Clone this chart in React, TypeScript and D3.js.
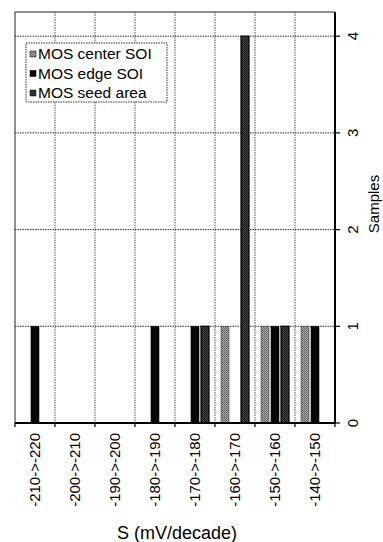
import React from "react";
import * as d3 from "d3";

const binLabels = ["-210->-220", "-200->-210", "-190->-200", "-180->-190", "-170->-180", "-160->-170", "-150->-160", "-140->-150"];
const binEdges = [-220, -210, -200, -190, -180, -170, -160, -150, -140];
const yTicks = [0, 1, 2, 3, 4];

// bar centers (mV/decade) and sample counts
const centerSOI_S = [-167.5, -157.5, -147.5];
const centerSOI_N = [1, 1, 1];
const edgeSOI_S = [-215, -185, -175, -155, -145];
const edgeSOI_N = [1, 1, 1, 1, 1];
const seedArea_S = [-172.5, -162.5, -152.5];
const seedArea_N = [1, 4, 1];

const seriesNames = ["MOS center SOI", "MOS edge SOI", "MOS seed area"];

const W = 383, H = 542;
const L = 15, R = 335, T = 12, B = 423;
const FONT = "'Liberation Sans', Arial, Helvetica, sans-serif";

export default function App() {
  const x = d3.scaleLinear().domain([-220, -140]).range([L, R]);
  const y = d3.scaleLinear().domain([0, 4.25]).range([B, T]);
  const barW = x(-218) - x(-220);

  const series = [
    { name: seriesNames[0], s: centerSOI_S, n: centerSOI_N, fill: "url(#pCenter)", stroke: "#444", sw: 0.6, sq: "url(#pCenter)" },
    { name: seriesNames[1], s: edgeSOI_S, n: edgeSOI_N, fill: "#050505", stroke: "#000", sw: 0.6, sq: "#050505" },
    { name: seriesNames[2], s: seedArea_S, n: seedArea_N, fill: "url(#pSeed)", stroke: "#000", sw: 1.2, sq: "url(#pSeed)" },
  ];

  return (
    <svg width={W} height={H} style={{ position: "absolute", left: 0, top: 0, background: "#fff" }} fontFamily={FONT}>
      <defs>
        <pattern id="pCenter" width="2" height="2" patternUnits="userSpaceOnUse">
          <rect width="2" height="2" fill="#a8a8a8" />
          <rect width="1" height="1" fill="#5e5e5e" />
          <rect x="1" y="1" width="1" height="1" fill="#6e6e6e" />
        </pattern>
        <pattern id="pSeed" width="2" height="2" patternUnits="userSpaceOnUse">
          <rect width="2" height="2" fill="#444" />
          <rect width="1" height="1" fill="#111" />
          <rect x="1" y="1" width="1" height="1" fill="#222" />
        </pattern>
      </defs>
      <rect x={0} y={0} width={W} height={H} fill="#fff" />

      {/* gridlines */}
      {binEdges.slice(1, -1).map((e) => (
        <line key={"v" + e} x1={x(e)} x2={x(e)} y1={T} y2={B} stroke="#555" strokeWidth={1} strokeDasharray="1.5,1" />
      ))}
      {yTicks.slice(1).map((t) => (
        <line key={"h" + t} x1={L} x2={R} y1={y(t)} y2={y(t)} stroke="#333" strokeWidth={1} strokeDasharray="1.5,1" />
      ))}

      {/* plot border top/left */}
      <line x1={L} x2={R} y1={T} y2={T} stroke="#222" strokeWidth={1} />
      <line x1={L} x2={L} y1={T} y2={B} stroke="#222" strokeWidth={1} />

      {/* bars */}
      {series.map((sr, si) =>
        sr.s.map((s, i) => (
          <rect key={si + "-" + i} x={x(s) - barW / 2} y={y(sr.n[i])} width={barW} height={y(0) - y(sr.n[i])}
            fill={sr.fill} stroke={sr.stroke} strokeWidth={sr.sw} />
        ))
      )}

      {/* bottom axis */}
      <line x1={L} x2={R + 1} y1={B} y2={B} stroke="#000" strokeWidth={2} />
      {binEdges.map((e) => (
        <line key={"bt" + e} x1={x(e)} x2={x(e)} y1={B} y2={B + 4} stroke="#000" strokeWidth={1.2} />
      ))}
      {binLabels.map((lab, i) => {
        const cx = x((binEdges[i] + binEdges[i + 1]) / 2);
        return (
          <text key={lab} transform={`translate(${cx},433) rotate(-90)`} textAnchor="end" dy="0.35em" fontSize={15} fill="#000">
            {lab}
          </text>
        );
      })}
      <text x={177} y={539} textAnchor="middle" fontSize={18} fill="#000">S (mV/decade)</text>

      {/* right axis */}
      <line x1={R} x2={R} y1={T} y2={B + 1} stroke="#000" strokeWidth={2} />
      {yTicks.map((t) => (
        <g key={"rt" + t}>
          <line x1={R} x2={R + 5} y1={y(t)} y2={y(t)} stroke="#000" strokeWidth={1.2} />
          <text transform={`translate(353,${y(t)}) rotate(-90)`} textAnchor="middle" dy="0.35em" fontSize={15} fill="#000">{t}</text>
        </g>
      ))}
      <text transform={`translate(374,204) rotate(-90)`} textAnchor="middle" dy="0.35em" fontSize={15} fill="#000">Samples</text>

      {/* legend */}
      <rect x={26} y={43} width={141} height={59} fill="#fff" stroke="#333" strokeWidth={1} strokeDasharray="1.5,1" />
      {series.map((sr, i) => (
        <g key={"lg" + i} transform={`translate(30,${54 + i * 19.5})`}>
          <rect x={0} y={-3} width={6} height={6} fill={sr.sq} stroke="#000" strokeWidth={0.5} />
          <text x={8} y={0} dy="0.35em" fontSize={15.5} fill="#000">{sr.name}</text>
        </g>
      ))}
    </svg>
  );
}
